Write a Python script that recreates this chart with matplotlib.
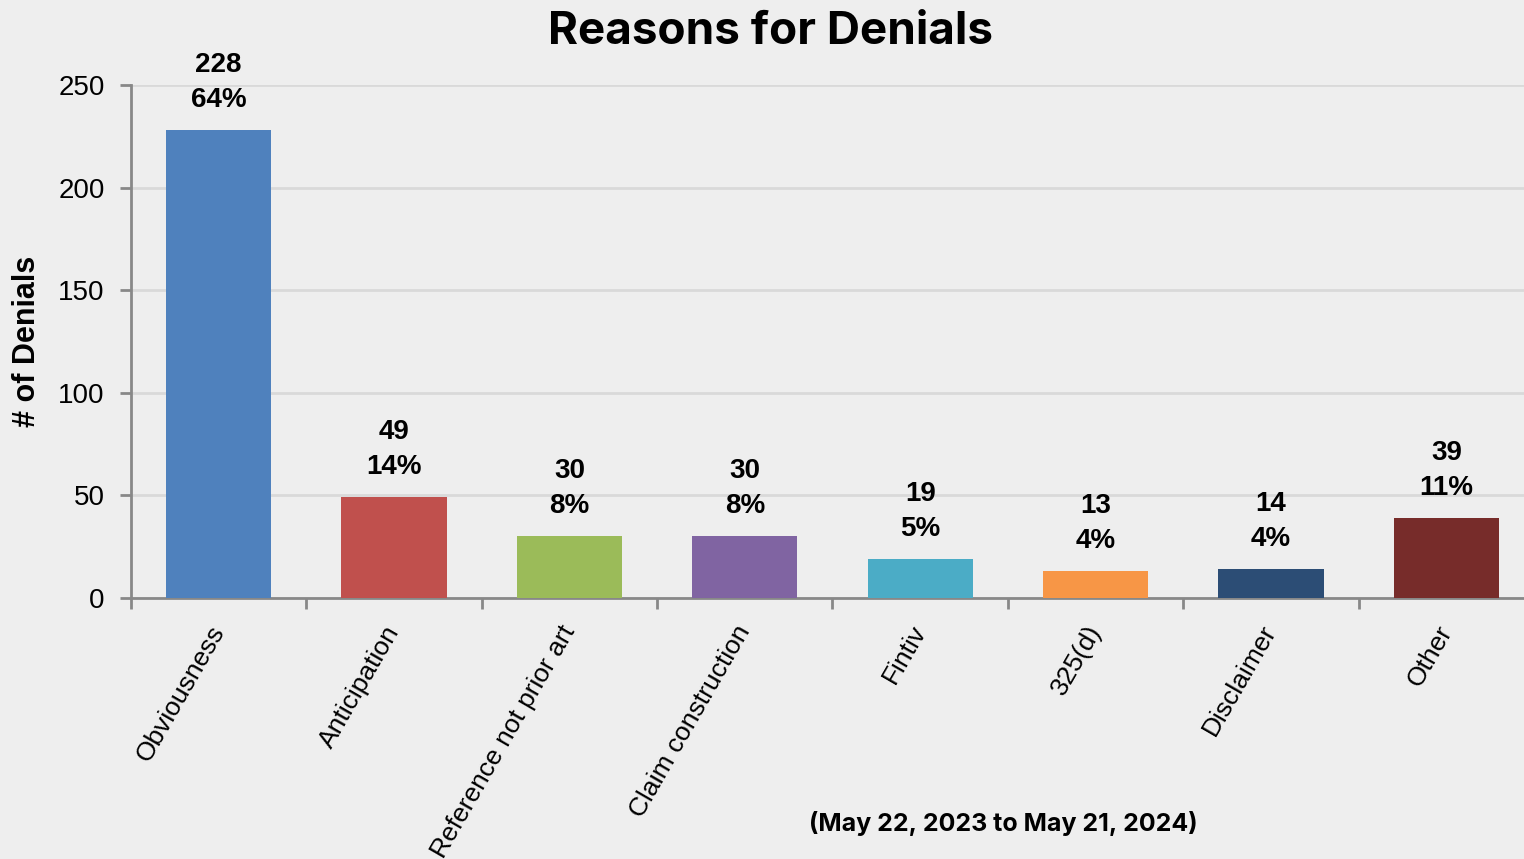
import matplotlib
matplotlib.use("Agg")
import matplotlib.pyplot as plt
import numpy as np

categories = ["Obviousness", "Anticipation", "Reference not prior art", "Claim construction",
              "Fintiv", "325(d)", "Disclaimer", "Other"]
counts = [228, 49, 30, 30, 19, 13, 14, 39]
percents = ["64%", "14%", "8%", "8%", "5%", "4%", "4%", "11%"]
colors = ["#4F81BD", "#C0504D", "#9BBB59", "#8064A2", "#4BACC6", "#F79646", "#2C4D75", "#772C2A"]
yticks = [0, 50, 100, 150, 200, 250]

bg = "#EEEEEE"
fig = plt.figure(figsize=(15.24, 8.59), dpi=100, facecolor=bg)
ax = fig.add_axes([131/1524, 1-598/859, 1403/1524, (598-85)/859])
ax.set_facecolor(bg)

x = np.arange(len(categories))
ax.bar(x, counts, width=0.6, color=colors, zorder=3)
ax.set_xlim(-0.5, 7.5)
ax.set_ylim(0, 250)

ax.set_yticks(yticks)
ax.set_yticklabels([str(v) for v in yticks], fontsize=20, family="Liberation Sans")
ax.yaxis.grid(True, color="#D9D9D9", linewidth=2, zorder=0)
ax.set_axisbelow(True)

ax.set_xticks(np.arange(-0.5, 8, 1))
ax.set_xticklabels([])
ax.set_xticks(x, minor=True)
ax.set_xticklabels(categories, minor=True, rotation=60, ha="right", va="center",
                   rotation_mode="anchor", fontsize=19, family="Liberation Sans")
ax.tick_params(axis="x", which="minor", length=0, pad=21)
ax.tick_params(axis="x", which="major", length=8, width=2, color="#888888", direction="out")
ax.tick_params(axis="y", length=8, width=2, color="#888888", direction="out", pad=11)

for s in ["top", "right"]:
    ax.spines[s].set_visible(False)
for s in ["left", "bottom"]:
    ax.spines[s].set_color("#888888")
    ax.spines[s].set_linewidth(2)

for xi, c, p in zip(x, counts, percents):
    ax.annotate(p, (xi, c), xytext=(0, 30*0.72), textcoords="offset points",
                ha="center", va="center", fontsize=20, fontweight="bold",
                family="Liberation Sans", zorder=4)
    ax.annotate(str(c), (xi, c), xytext=(0, 65*0.72), textcoords="offset points",
                ha="center", va="center", fontsize=20, fontweight="bold",
                family="Liberation Sans", zorder=4)

ax.set_ylabel("# of Denials", fontsize=22, fontweight="bold", family="Liberation Sans")
ax.yaxis.set_label_coords(-(131-42)/1403, 0.5)

fig.text(770/1524, 1-32/859, "Reasons for Denials", ha="center", va="center",
         fontsize=33, fontweight="bold", family="Inter")
fig.text(1003/1524, 1-823/859, "(May 22, 2023 to May 21, 2024)", ha="center", va="center",
         fontsize=18, fontweight="bold", family="Inter")

fig.savefig("out.png", dpi=100, facecolor=bg)
